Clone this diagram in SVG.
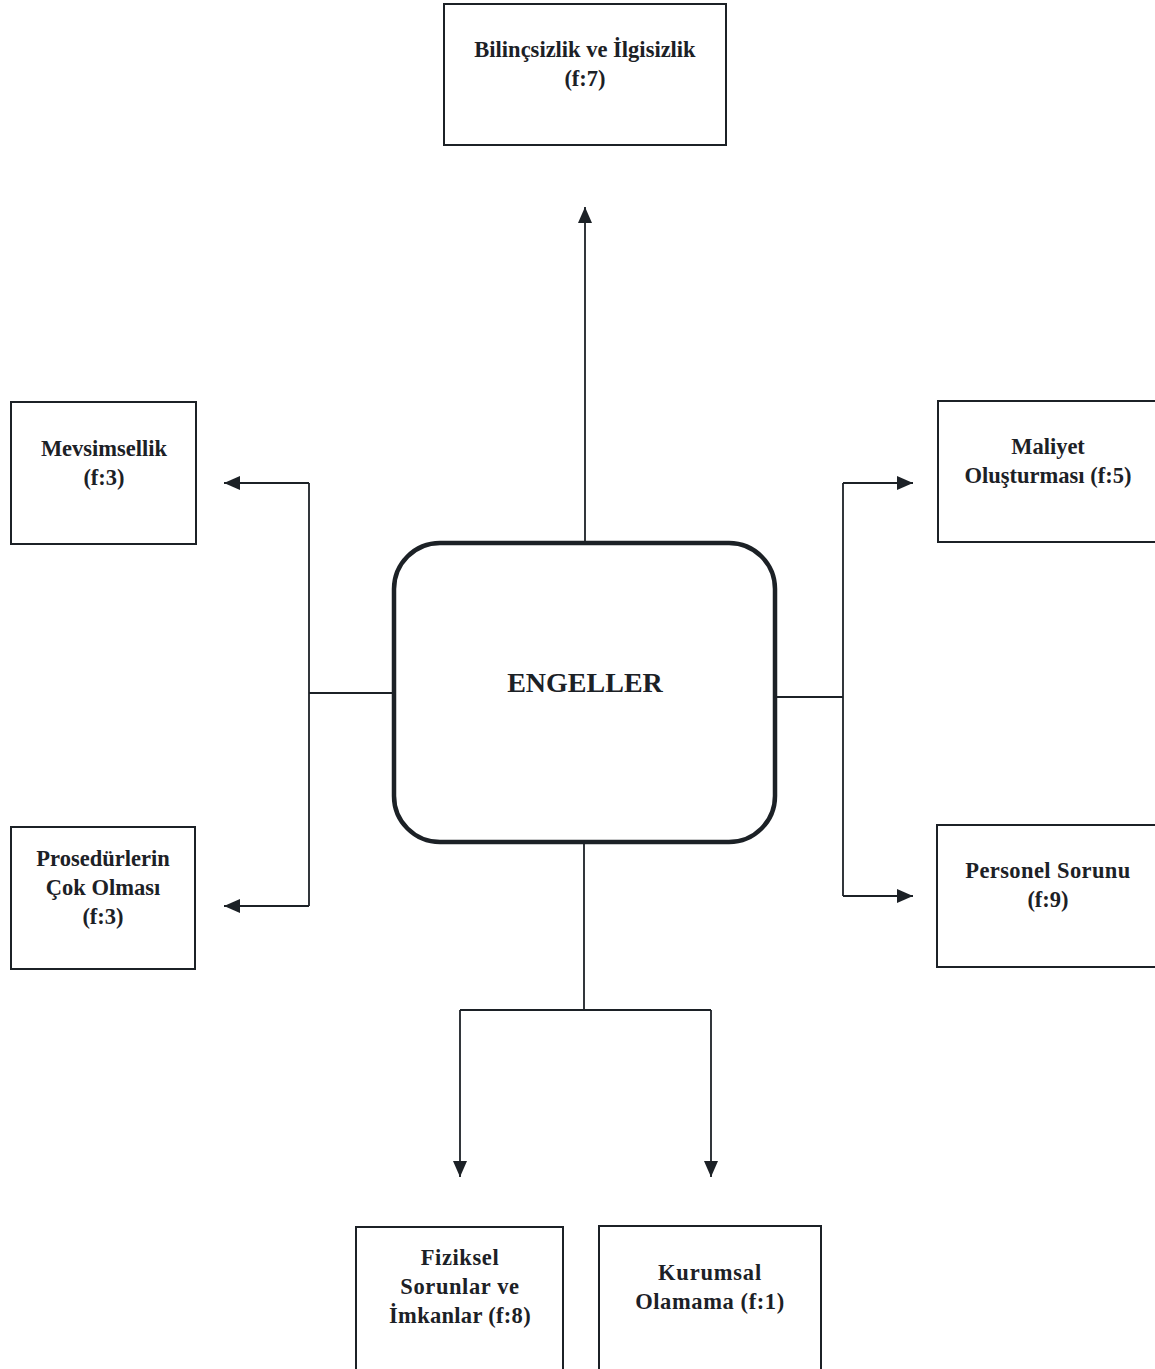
<svg xmlns="http://www.w3.org/2000/svg" width="1155" height="1369" viewBox="0 0 1155 1369">
<defs>
<style>
.box{fill:#fff;stroke:#1c2126;stroke-width:2}
.core{fill:#fff;stroke:#1c2126;stroke-width:4.5}
.t{font-family:"Liberation Serif","Times New Roman",serif;font-weight:bold;font-size:22.5px;fill:#1c2126;text-anchor:middle}
.big{font-size:28px}
.ln{fill:none;stroke:#1c2126;stroke-width:1.8}
</style>
<marker id="ah" viewBox="0 0 16 14" refX="16" refY="7" markerWidth="16" markerHeight="14" markerUnits="userSpaceOnUse" orient="auto">
<path d="M0,0 L16,7 L0,14 Z" fill="#1c2126"/>
</marker>
</defs>
<rect width="1155" height="1369" fill="#fff"/>
<g id="connectors">
<path class="ln" d="M585,542 V207" marker-end="url(#ah)"/>
<path class="ln" d="M393,693 H309"/>
<path class="ln" d="M309,483 V906"/>
<path class="ln" d="M309,483 H224" marker-end="url(#ah)"/>
<path class="ln" d="M309,906 H224" marker-end="url(#ah)"/>
<path class="ln" d="M776,697 H843"/>
<path class="ln" d="M843,483 V896"/>
<path class="ln" d="M843,483 H913" marker-end="url(#ah)"/>
<path class="ln" d="M843,896 H913" marker-end="url(#ah)"/>
<path class="ln" d="M584,843 V1010"/>
<path class="ln" d="M460,1010 H711"/>
<path class="ln" d="M460,1010 V1177" marker-end="url(#ah)"/>
<path class="ln" d="M711,1010 V1177" marker-end="url(#ah)"/>
</g>
<g id="engeller">
<rect class="core" x="394" y="543" width="381" height="299" rx="46" ry="46"/>
<text class="t big" x="585" y="692">ENGELLER</text>
</g>
<g id="bilincsizlik">
<rect class="box" x="444" y="4" width="282" height="141"/>
<text class="t" x="585" y="57">Bilinçsizlik ve İlgisizlik</text>
<text class="t" x="585" y="86">(f:7)</text>
</g>
<g id="mevsimsellik">
<rect class="box" x="11" y="402" width="185" height="142"/>
<text class="t" x="104" y="456">Mevsimsellik</text>
<text class="t" x="104" y="485">(f:3)</text>
</g>
<g id="prosedurler">
<rect class="box" x="11" y="827" width="184" height="142"/>
<text class="t" x="103" y="866">Prosedürlerin</text>
<text class="t" x="103" y="895">Çok Olması</text>
<text class="t" x="103" y="924">(f:3)</text>
</g>
<g id="maliyet">
<rect class="box" x="938" y="401" width="220" height="141"/>
<text class="t" x="1048" y="454">Maliyet</text>
<text class="t" x="1048" y="483">Oluşturması (f:5)</text>
</g>
<g id="personel">
<rect class="box" x="937" y="825" width="221" height="142"/>
<text class="t" x="1048" y="878" letter-spacing="0.4">Personel Sorunu</text>
<text class="t" x="1048" y="907">(f:9)</text>
</g>
<g id="fiziksel">
<rect class="box" x="356" y="1227" width="207" height="145"/>
<text class="t" x="460" y="1265" letter-spacing="0.6">Fiziksel</text>
<text class="t" x="460" y="1294" letter-spacing="0.6">Sorunlar ve</text>
<text class="t" x="460" y="1323" letter-spacing="0.3">İmkanlar (f:8)</text>
</g>
<g id="kurumsal">
<rect class="box" x="599" y="1226" width="222" height="146"/>
<text class="t" x="710" y="1280" letter-spacing="0.8">Kurumsal</text>
<text class="t" x="710" y="1309" letter-spacing="0.6">Olamama (f:1)</text>
</g>
</svg>
